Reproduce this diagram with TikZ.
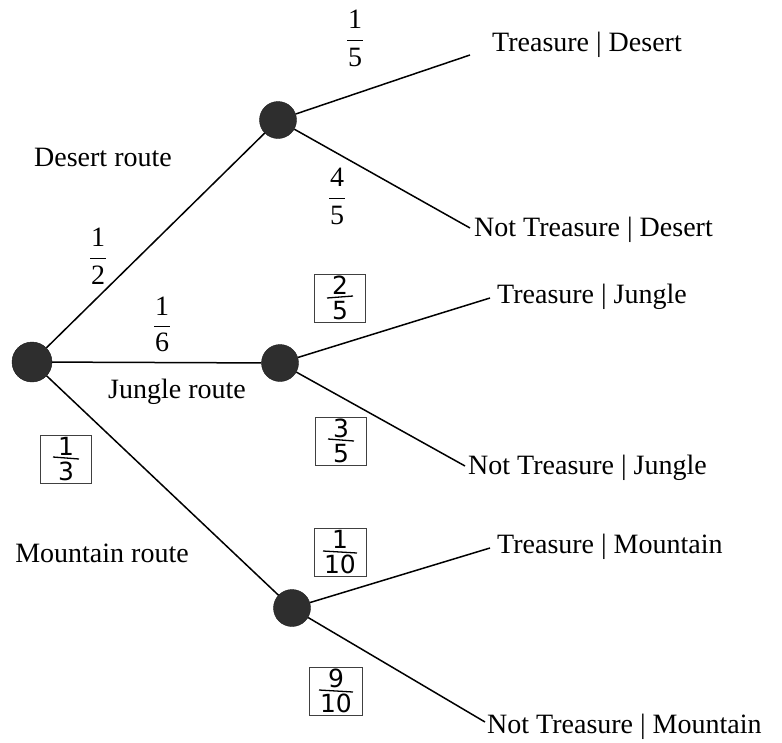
\documentclass[tikz,border=0pt]{standalone}
\usepackage{fontspec}
\setmainfont{Liberation Serif}
\newfontfamily\handfont{DejaVu Sans}
\begin{document}
\begin{tikzpicture}[x=1pt,y=-1pt,
  every node/.style={font=\fontsize{28}{33}\selectfont},
  dot/.style={circle,fill=black!82,draw=black!90,minimum size=38pt,inner sep=0pt},
  leaf/.style={anchor=west,inner sep=0pt},
  lbl/.style={inner sep=0pt},
  edge/.style={line width=1.5pt},
  pfr/.style={align=center,inner sep=0pt},
  bar/.style={line width=0.9pt},
  hbox/.style={draw=black!75,line width=0.8pt,minimum width=51pt,minimum height=48pt,inner sep=0pt,align=center,
     font=\handfont\fontsize{25}{26}\selectfont},
  hbar/.style={line width=1.3pt}
]
\useasboundingbox (0,0) rectangle (782,742);

% main nodes
\node[dot,minimum size=40pt] (r) at (32,362) {};
\node[dot,minimum size=37pt] (d) at (278,120) {};
\node[dot,minimum size=37pt] (j) at (280,363) {};
\node[dot,minimum size=37pt] (m) at (292,608) {};

% leaf end coordinates
\coordinate (eTD) at (470,55);
\coordinate (eND) at (470,228);
\coordinate (eTJ) at (490,298);
\coordinate (eNJ) at (465,466);
\coordinate (eTM) at (490,548);
\coordinate (eNM) at (485,722);

% leaf labels
\node[leaf] (tTD) at (492,45) {Treasure | Desert};
\node[leaf] (tND) at (474,230) {Not Treasure | Desert};
\node[leaf] (tTJ) at (497,297) {Treasure | Jungle};
\node[leaf] (tNJ) at (468,468) {Not Treasure | Jungle};
\node[leaf] (tTM) at (497,547) {Treasure | Mountain};
\node[leaf] (tNM) at (487,727) {Not Treasure | Mountain};

% connectors
\draw[edge] (r) -- (d);
\draw[edge] (r) -- (j);
\draw[edge] (r) -- (m);
\draw[edge] (d) -- (eTD);
\draw[edge] (d) -- (eND);
\draw[edge] (j) -- (eTJ);
\draw[edge] (j) -- (eNJ);
\draw[edge] (m) -- (eTM);
\draw[edge] (m) -- (eNM);

% route labels
\node[lbl] (lD) at (103,157) {Desert route};
\node[lbl] (lJ) at (177,392) {Jungle route};
\node[lbl] (lM) at (102,553) {Mountain route};

% printed fractions
\node[pfr] (f15) at (355,38) {1\\[5pt]5};
\draw[bar] ([xshift=-8pt,yshift=-2pt]f15.center) -- ([xshift=8pt,yshift=-2pt]f15.center);
\node[pfr] (f45) at (337,196) {4\\[5pt]5};
\draw[bar] ([xshift=-8pt,yshift=-2pt]f45.center) -- ([xshift=8pt,yshift=-2pt]f45.center);
\node[pfr] (f12) at (98,256) {1\\[5pt]2};
\draw[bar] ([xshift=-8pt,yshift=-2pt]f12.center) -- ([xshift=8pt,yshift=-2pt]f12.center);
\node[pfr] (f16) at (162,324) {1\\[3pt]6};
\draw[bar] ([xshift=-8pt,yshift=-2pt]f16.center) -- ([xshift=8pt,yshift=-2pt]f16.center);

% handwritten boxed fractions
\node[hbox] (h25) at (340,298) {2\\[-1pt]5};
\draw[hbar] ([xshift=-13pt]h25.center) -- ([xshift=13pt,yshift=2pt]h25.center);
\node[hbox] (h35) at (341,441) {3\\[-1pt]5};
\draw[hbar] ([xshift=-13pt,yshift=2pt]h35.center) -- ([xshift=13pt]h35.center);
\node[hbox] (h13) at (66,459) {1\\[-1pt]3};
\draw[hbar] ([xshift=-13pt,yshift=2pt]h13.center) -- ([xshift=13pt]h13.center);
\node[hbox,minimum width=52pt] (h110) at (340,552) {1\\[-1pt]10};
\draw[hbar] ([xshift=-17pt,yshift=1pt]h110.center) -- ([xshift=17pt,yshift=-1pt]h110.center);
\node[hbox,minimum width=53pt] (h910) at (336,691) {9\\[-1pt]10};
\draw[hbar] ([xshift=-17pt,yshift=1pt]h910.center) -- ([xshift=17pt,yshift=-1pt]h910.center);
\end{tikzpicture}
\end{document}
